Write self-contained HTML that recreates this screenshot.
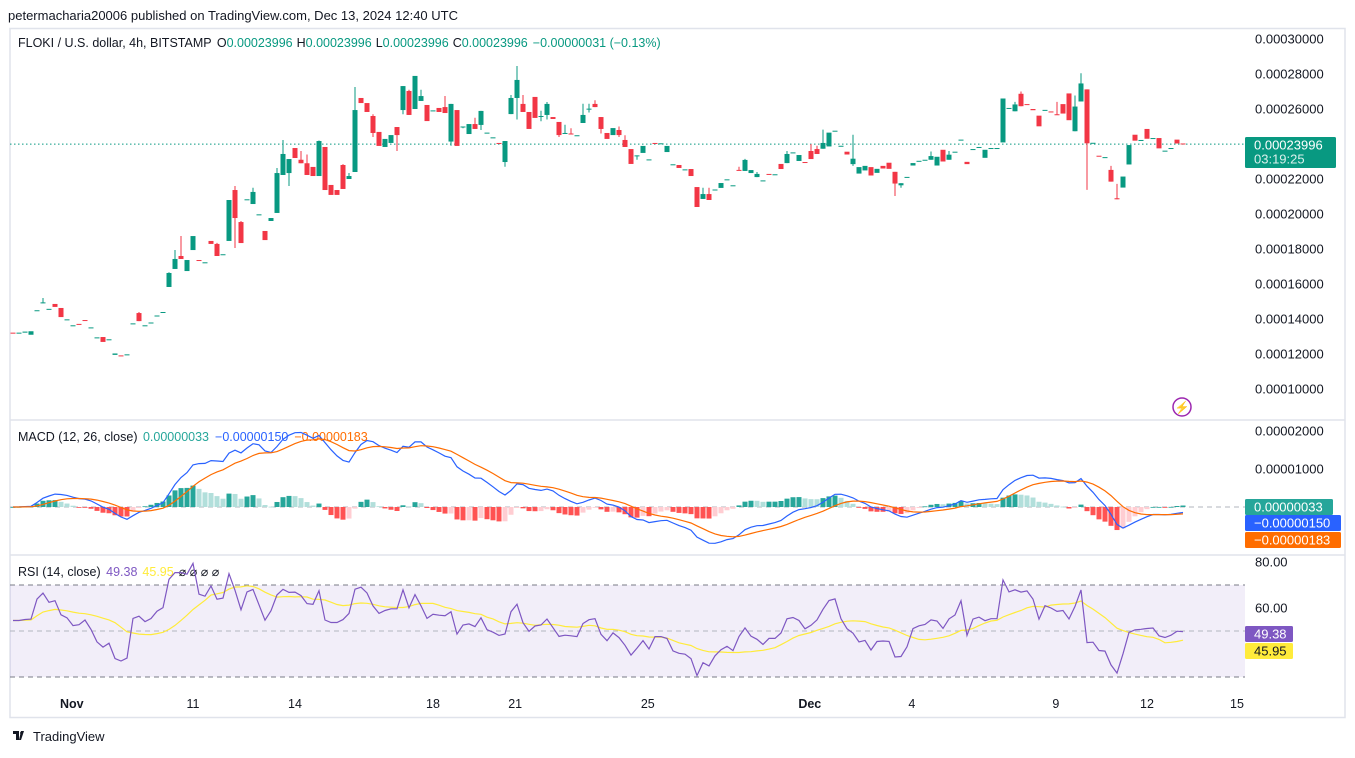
<!DOCTYPE html>
<html><head><meta charset="utf-8"><style>
html,body{margin:0;padding:0;background:#fff;}
body{width:1355px;height:753px;overflow:hidden;font-family:"Liberation Sans",sans-serif;}
svg text{font-family:"Liberation Sans",sans-serif;}
</style></head><body>
<svg id="c" width="1355" height="753" viewBox="0 0 1355 753" xmlns="http://www.w3.org/2000/svg">
<rect x="0" y="0" width="1355" height="753" fill="#fff"/>
<text x="8" y="20" font-size="13" fill="#131722">petermacharia20006 published on TradingView.com, Dec 13, 2024 12:40 UTC</text>
<rect x="10" y="28.5" width="1335" height="689" fill="none" stroke="#e0e3eb" stroke-width="1.5"/>
<line x1="10" y1="420" x2="1345" y2="420" stroke="#e0e3eb" stroke-width="1.5"/>
<line x1="10" y1="555" x2="1345" y2="555" stroke="#e0e3eb" stroke-width="1.5"/>
<text x="18" y="47" font-size="12.5" fill="#131722">FLOKI / U.S. dollar, 4h, BITSTAMP <tspan dx="2">O</tspan><tspan fill="#089981">0.00023996</tspan><tspan dx="4">H</tspan><tspan fill="#089981">0.00023996</tspan><tspan dx="4">L</tspan><tspan fill="#089981">0.00023996</tspan><tspan dx="4">C</tspan><tspan fill="#089981">0.00023996</tspan><tspan dx="5" fill="#089981">−0.00000031 (−0.13%)</tspan></text>
<text x="18" y="441" font-size="12.5" fill="#131722">MACD (12, 26, close) <tspan dx="2" fill="#26a69a">0.00000033</tspan><tspan dx="6" fill="#2962ff">−0.00000150</tspan><tspan dx="6" fill="#ff6d00">−0.00000183</tspan></text>
<text x="18" y="576" font-size="12.5" fill="#131722">RSI (14, close) <tspan dx="2" fill="#7e57c2">49.38</tspan><tspan dx="5" fill="#ffeb3b">45.95</tspan><tspan dx="5">⌀ ⌀ ⌀ ⌀</tspan></text>
<g id="main"></g>
<circle cx="1182" cy="407" r="9" fill="none" stroke="#9c27b0" stroke-width="1.5"/>
<text x="1182" y="411.5" font-size="12" fill="#9c27b0" text-anchor="middle">⚡</text>
<g><path d="M13 731h6v9h-3v-6h-3z M21 731h3l-3 9h-2z" fill="#131722"/><circle cx="21.5" cy="733" r="1.4" fill="#131722"/>
<text x="33" y="741" font-size="13" fill="#131722">TradingView</text></g>
</svg>
<script>
const opens=[13.22,13.18,13.22,13.1,14.45,14.9,14.55,14.86,14.63,13.96,13.62,13.72,13.94,13.5,12.93,12.97,12.82,11.95,11.92,11.96,13.73,14.34,13.62,13.78,14.18,14.38,15.83,16.86,17.6,16.74,17.94,17.37,17.22,18.46,18.29,17.68,18.46,21.37,19.54,20.82,20.57,19.96,19.03,19.6,20.06,22.23,22.34,23.77,23.1,22.9,22.69,22.17,23.83,21.66,21.37,22.8,22.0,22.4,26.63,26.34,25.6,24.69,23.83,24.06,24.97,25.94,27.03,26.0,26.46,26.23,25.9,26.06,26.11,24.14,25.94,24.97,24.57,25.14,25.09,24.63,24.36,24.06,22.97,25.71,26.63,26.29,25.83,26.69,25.58,25.66,25.54,25.26,24.61,24.6,24.48,25.2,26.0,26.29,25.54,24.63,24.51,24.8,24.23,23.71,23.33,23.49,23.1,24.06,24.02,23.54,22.82,22.8,22.53,22.57,21.54,20.86,21.14,21.38,21.49,21.96,21.62,22.52,22.46,22.34,22.11,21.9,22.29,22.25,22.86,22.91,23.5,23.03,22.97,23.6,23.71,23.73,23.86,24.74,23.88,23.56,22.85,22.31,22.49,22.68,22.35,22.75,22.93,22.41,21.64,22.1,22.77,23.02,23.08,23.1,22.77,23.67,23.1,23.54,24.23,22.98,23.69,23.81,23.21,23.75,23.75,24.09,26.04,25.87,26.87,26.28,26.0,25.62,25.93,25.86,25.7,26.28,26.89,24.73,26.43,27.12,24.05,23.33,23.23,22.52,20.9,21.51,22.83,24.53,24.21,24.86,24.32,24.34,23.6,23.75,24.25,24.03];
const closes=[13.18,13.22,13.28,13.3,14.5,14.95,14.58,14.69,14.11,13.98,13.64,13.68,13.9,13.52,12.95,12.69,12.84,12.03,11.88,11.98,13.75,13.88,13.64,13.8,14.2,14.4,16.63,17.43,17.43,17.37,18.74,17.34,17.24,18.29,17.6,17.7,20.8,19.77,18.34,20.84,21.26,19.98,18.51,19.77,22.34,23.43,23.14,23.2,22.9,22.23,22.17,24.17,21.37,21.09,21.09,21.43,22.17,25.94,26.34,25.83,24.63,23.89,24.29,24.51,24.51,27.31,25.66,27.89,26.74,25.31,25.92,25.83,25.77,26.29,23.89,25.0,25.14,24.86,25.89,24.65,24.38,24.04,24.17,26.63,27.66,25.83,24.86,25.49,25.6,26.29,25.43,24.51,24.63,24.57,24.5,25.66,26.02,26.11,24.86,24.29,24.91,24.51,23.83,22.86,23.35,23.89,23.12,24.04,24.04,23.89,22.84,22.63,22.55,22.17,20.4,21.14,20.8,21.4,21.77,21.98,21.64,22.5,23.09,22.51,22.29,21.92,22.27,22.27,22.57,23.43,23.52,23.37,22.95,23.14,23.43,24.06,24.65,24.76,23.9,23.4,23.16,22.68,22.75,22.2,22.58,22.6,22.58,21.74,21.76,22.12,22.91,23.04,23.1,23.31,23.27,23.0,23.39,23.56,24.25,22.85,23.71,23.83,23.67,23.77,23.77,26.6,26.06,26.26,26.16,26.26,25.93,25.01,25.95,25.84,25.68,25.74,25.36,26.14,27.46,24.04,24.07,23.31,23.25,21.85,20.84,22.14,23.94,24.19,24.23,24.3,24.34,23.75,23.62,23.77,24.03,24.0];
const wickHighs=[[5,15.2],[21,14.4],[26,16.67],[27,17.94],[28,18.74],[34,18.35],[37,21.6],[38,19.6],[40,21.5],[44,22.63],[45,24.23],[48,23.6],[49,23.4],[51,24.2],[55,22.85],[56,22.34],[57,27.26],[60,25.7],[66,27.1],[68,27.1],[72,26.74],[77,25.5],[83,26.8],[84,28.46],[85,26.8],[88,25.9],[89,26.4],[92,25.1],[93,24.9],[95,26.3],[96,26.3],[97,26.5],[101,25.0],[102,24.5],[115,21.5],[116,21.5],[121,22.7],[122,23.15],[124,22.4],[129,23.6],[133,24.0],[134,23.9],[135,24.82],[140,24.53],[153,23.57],[156,23.6],[167,26.41],[168,27.0],[174,26.41],[177,26.77],[178,28.04],[183,22.75],[184,21.72]];
const wickLows=[[37,18.06],[46,21.6],[60,24.4],[64,23.6],[65,25.7],[73,23.9],[75,24.9],[78,24.8],[82,22.7],[84,25.4],[88,25.3],[89,25.4],[91,24.4],[96,25.8],[98,24.6],[101,24.4],[104,23.1],[140,22.75],[147,21.03],[148,21.5],[179,21.38]];
const priceTicks=[30,28,26,24,22,20,18,16,14,12,10];
const macdTicks=[2,1];
const rsiTicks=[80,60];
const timeLabels=["Nov","11","14","18","21","25","Dec","4","9","12","15"];
const timeLabelIdx=[9.8,30,47,70,83.7,105.8,132.8,149.8,173.8,189,204];
const lastPrice=23.996;

const NS="http://www.w3.org/2000/svg";
const svg=document.getElementById('main');
function barX(i){return 13+6*i;}
function priceY(p){return 39+(30-p)*17.5;}
function macdY(v){return 507-v*38;}
function rsiY(v){return 562+(80-v)*2.3;}
function mk(tag,attrs,parent){const e=document.createElementNS(NS,tag);for(const k in attrs)e.setAttribute(k,attrs[k]);(parent||svg).appendChild(e);return e;}

// RSI band
let band=mk('rect',{x:10,y:rsiY(70),width:1235,height:rsiY(30)-rsiY(70),fill:'#7e57c2','fill-opacity':0.1});


[[70,'#787b86'],[30,'#787b86'],[50,'#b2b5be']].forEach(([v,c])=>{
  const l=mk('line',{x1:10,x2:1245,y1:rsiY(v),y2:rsiY(v),stroke:c,'stroke-dasharray':'5,4'});
  
  
});
const zl=mk('line',{x1:10,x2:1245,y1:macdY(0),y2:macdY(0),stroke:'#b2b5be','stroke-dasharray':'5,4'});


const pl=mk('line',{x1:10,x2:1245,y1:priceY(lastPrice),y2:priceY(lastPrice),stroke:'#089981','stroke-dasharray':'1.5,2.5'});



// candles
const hiMap={},loMap={};wickHighs.forEach(([i,v])=>hiMap[i]=v);wickLows.forEach(([i,v])=>loMap[i]=v);
for(let i=0;i<closes.length;i++){
  const o=opens[i],c=closes[i],up=c>=o,col=up?'#089981':'#f23645';
  const top=Math.max(o,c),bot=Math.min(o,c);
  const h=hiMap[i]!==undefined?hiMap[i]:top,l=loMap[i]!==undefined?loMap[i]:bot;
  const g=mk('g',{});
  
  
  if(h>top||l<bot)mk('line',{x1:barX(i),x2:barX(i),y1:priceY(h),y2:priceY(l),stroke:col,'stroke-width':1},g);
  const y1=priceY(top),hh=Math.max(1,priceY(bot)-y1);
  mk('rect',{x:barX(i)-2.5,y:y1,width:5,height:hh,fill:col},g);
}
// indicators
function ema(a,n){const k=2/(n+1);const r=[];a.forEach((v,i)=>r.push(i?v*k+r[i-1]*(1-k):v));return r;}
const e12=ema(closes,12),e26=ema(closes,26);
const macd=closes.map((v,i)=>e12[i]-e26[i]);
const sig=ema(macd,9);
const hist=macd.map((v,i)=>v-sig[i]);
for(let i=0;i<hist.length;i++){
  const v=hist[i],p=i?hist[i-1]:0;
  const col=v>=0?(v>=p?'#26a69a':'#b2dfdb'):(v<p?'#ff5252':'#ffcdd2');
  const y0=macdY(0),y=macdY(v);
  const r=mk('rect',{x:barX(i)-2.5,y:Math.min(y0,y),width:5,height:Math.max(0.8,Math.abs(y-y0)),fill:col});
  
  
}
function poly(vals,fy,col,name){const pts=vals.map((v,i)=>v==null?null:barX(i)+','+fy(v).toFixed(1)).filter(Boolean).join(' ');
  const p=mk('polyline',{points:pts,fill:'none',stroke:col,'stroke-width':1.2});
  
  }
poly(macd,macdY,'#2962ff','macd-line');
poly(sig,macdY,'#ff6d00','signal-line');
// RSI (Wilder)
const rsi=[];let ag=0,al=0;
for(let i=1;i<closes.length;i++){const d=closes[i]-closes[i-1],g=Math.max(d,0),l=Math.max(-d,0);
  if(i===1){ag=g+0.2;al=l+0.2;}else{ag=(ag*13+g)/14;al=(al*13+l)/14;}
  rsi[i]=100-100/(1+ag/al);}
rsi[0]=rsi[1];
const rsiMa=rsi.map((v,i)=>{const s=rsi.slice(Math.max(0,i-13),i+1);return s.reduce((a,b)=>a+b,0)/s.length;});
poly(rsiMa,rsiY,'#ffeb3b','rsi-ma-line');
poly(rsi,rsiY,'#7e57c2','rsi-line');

// axis labels
priceTicks.forEach(t=>{const e=mk('text',{x:1255,y:priceY(t)+4.5,'font-size':13,fill:'#131722'});e.textContent=(t*1e-5).toFixed(8);
  
  });
macdTicks.forEach(t=>{const e=mk('text',{x:1255,y:macdY(t)+4.5,'font-size':13,fill:'#131722'});e.textContent=(t*1e-5).toFixed(8);
  
  });
rsiTicks.forEach(t=>{const e=mk('text',{x:1255,y:rsiY(t)+4.5,'font-size':13,fill:'#131722'});e.textContent=t.toFixed(2);
  
  });
timeLabels.forEach((t,i)=>{const e=mk('text',{x:barX(timeLabelIdx[i]),y:708,'font-size':12.5,fill:'#131722','text-anchor':'middle','font-weight':(t==='Nov'||t==='Dec')?'bold':'normal'});e.textContent=t;
  
  });
// tags
function tag(y,h,w,bg,fg,lines,name){const g=mk('g',{});
  
  
  mk('rect',{x:1245,y:y,width:w,height:h,fill:bg,rx:1.5},g);
  lines.forEach((s,k)=>{const t=mk('text',{x:1254,y:y+12.5+k*14,'font-size':13,fill:k?'rgba(255,255,255,0.85)':fg},g);t.textContent=s;});}
tag(137,31,91,'#089981','#fff',['0.00023996','03:19:25'],'last-price-tag');
tag(499,16,88,'#26a69a','#fff',['0.00000033'],'histogram-value-tag');
tag(515,16,96,'#2962ff','#fff',['−0.00000150'],'macd-value-tag');
tag(532,16,96,'#ff6d00','#fff',['−0.00000183'],'signal-value-tag');
tag(626,16,48,'#7e57c2','#fff',['49.38'],'rsi-value-tag');
tag(643,16,48,'#ffeb3b','#131722',['45.95'],'rsi-ma-value-tag');
</script>
</body></html>
